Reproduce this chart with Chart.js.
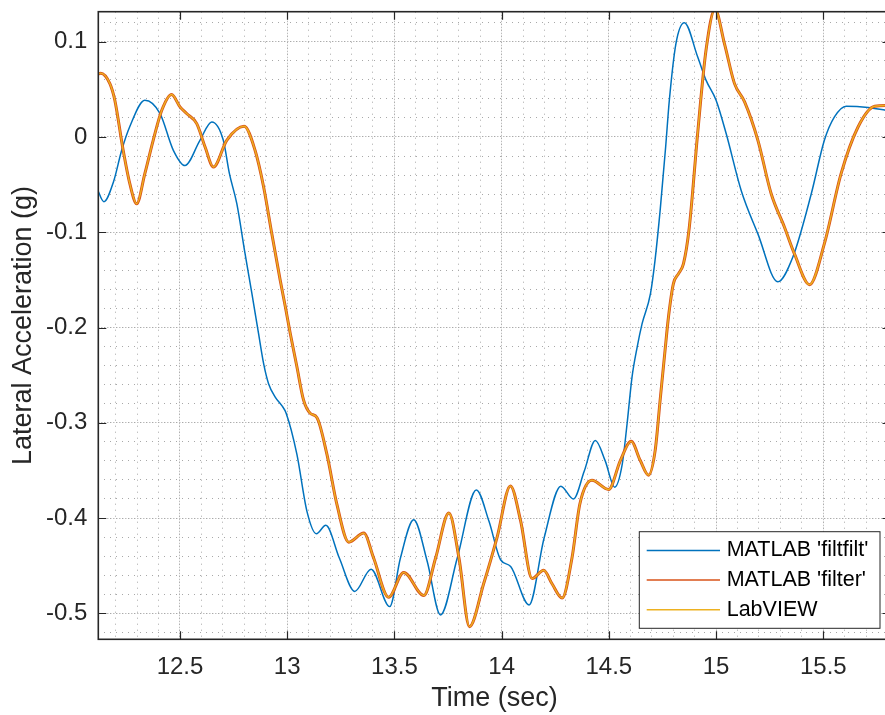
<!DOCTYPE html>
<html lang="en">
<head>
  <meta charset="UTF-8" />
  <title>Lateral Acceleration - filter comparison</title>
  <script src="https://cdn.jsdelivr.net/npm/chart.js@4"></script>
  <style>
    html, body { margin: 0; padding: 0; background: #fff; overflow: hidden; }
    #chart { display: block; }
  </style>
</head>
<body>
  <canvas id="chart" width="892" height="715"></canvas>

  <script>
    // MATLAB 'filtfilt' (zero phase) - time in sec, lateral acceleration in g
    const filtfiltTime = [12.113, 12.145, 12.19, 12.228, 12.266, 12.336, 12.407, 12.469, 12.523, 12.593,
      12.648, 12.702, 12.73, 12.765, 12.803, 12.835, 12.866, 12.89, 12.913, 12.944,
      12.975, 12.995, 13.045, 13.092, 13.136, 13.18, 13.243, 13.315, 13.391, 13.478,
      13.528, 13.59, 13.653, 13.715, 13.793, 13.882, 13.941, 13.995, 14.042, 14.128,
      14.198, 14.276, 14.335, 14.385, 14.437, 14.483, 14.527, 14.562, 14.585, 14.608,
      14.632, 14.655, 14.694, 14.715, 14.74, 14.765, 14.782, 14.813, 14.852, 14.914,
      14.953, 15.0, 15.047, 15.117, 15.195, 15.288, 15.358, 15.444, 15.505, 15.552,
      15.607, 15.709, 15.792, 15.82];
    const filtfiltValue = [-0.054, -0.068, -0.047, -0.014, 0.011, 0.0386, 0.0246, -0.014, -0.030, -0.0035,
      0.0158, -0.0035, -0.038, -0.070, -0.122, -0.164, -0.206, -0.238, -0.259, -0.273,
      -0.282, -0.290, -0.333, -0.393, -0.4165, -0.4077, -0.442, -0.477, -0.4537, -0.493,
      -0.442, -0.4017, -0.4456, -0.5017, -0.442, -0.3705, -0.4035, -0.4438, -0.4508, -0.4912,
      -0.421, -0.3666, -0.380, -0.351, -0.3185, -0.340, -0.3676, -0.344, -0.301, -0.252,
      -0.2205, -0.196, -0.1644, -0.130, -0.075, -0.010, 0.0386, 0.0983, 0.120, 0.0842,
      0.0597, 0.0386, 0.0036, -0.0561, -0.1017, -0.152, -0.126, -0.0596, -0.0035, 0.021,
      0.0323, 0.031, 0.028, 0.027];

    // MATLAB 'filter' (causal)
    const filterTime = [12.119, 12.13, 12.173, 12.196, 12.235, 12.266, 12.298, 12.336, 12.375, 12.415,
      12.461, 12.5, 12.531, 12.578, 12.617, 12.656, 12.718, 12.799, 12.85, 12.89,
      12.928, 12.967, 12.991, 13.014, 13.045, 13.076, 13.107, 13.139, 13.185, 13.232,
      13.287, 13.357, 13.403, 13.473, 13.543, 13.637, 13.692, 13.754, 13.801, 13.85,
      13.916, 13.979, 14.041, 14.088, 14.142, 14.196, 14.235, 14.282, 14.328, 14.365,
      14.421, 14.499, 14.554, 14.604, 14.646, 14.685, 14.716, 14.739, 14.762, 14.778,
      14.801, 14.825, 14.848, 14.875, 14.914, 14.953, 14.995, 15.039, 15.086, 15.133,
      15.195, 15.257, 15.319, 15.366, 15.436, 15.505, 15.583, 15.662, 15.74, 15.792,
      15.82];
    const filterValue = [0.066, 0.067, 0.056, 0.0386, -0.014, -0.049, -0.0701, -0.0385, -0.0035, 0.028,
      0.0446, 0.0316, 0.0246, 0.014, -0.0105, -0.0316, -0.0035, 0.0112, -0.014, -0.0525,
      -0.1014, -0.150, -0.178, -0.206, -0.241, -0.276, -0.290, -0.2947, -0.333, -0.386,
      -0.4253, -0.4158, -0.442, -0.4832, -0.4571, -0.4814, -0.442, -0.3947, -0.442, -0.514,
      -0.469, -0.420, -0.3663, -0.4025, -0.4635, -0.4548, -0.469, -0.484, -0.442, -0.385,
      -0.3604, -0.370, -0.3394, -0.3195, -0.3394, -0.355, -0.329, -0.2764, -0.224, -0.189,
      -0.154, -0.1434, -0.133, -0.095, 0.0036, 0.091, 0.134, 0.098, 0.056, 0.0368,
      -0.0035, -0.0596, -0.0947, -0.123, -0.155, -0.112, -0.0385, 0.0105, 0.0323, 0.033,
      0.031];

    // LabVIEW output lies right on top of the MATLAB 'filter' curve
    const labviewTime = filterTime;
    const labviewValue = filterValue;

    const seriesNames = ["MATLAB 'filtfilt'", "MATLAB 'filter'", "LabVIEW"];
    const seriesColors = ["#0072BD", "#D95319", "#EDB120"];

    const xTicks = [12.5, 13, 13.5, 14, 14.5, 15, 15.5];
    const xTickLabels = ["12.5", "13", "13.5", "14", "14.5", "15", "15.5"];
    const yTicks = [-0.5, -0.4, -0.3, -0.2, -0.1, 0, 0.1];
    const yTickLabels = ["-0.5", "-0.4", "-0.3", "-0.2", "-0.1", "0", "0.1"];

    const xRange = [12.119, 15.8134];
    const yRange = [-0.5273, 0.1315];

    const FONT = "'Liberation Sans', Arial, sans-serif";
    const AXIS_COLOR = "#262626";

    // minor grid positions (0.1 s and 0.02 g)
    function gridSteps(from, to, step) {
      const out = [];
      for (let v = from; v <= to + 1e-9; v += step) out.push(Math.round(v * 1000) / 1000);
      return out;
    }
    const xMinor = gridSteps(12.2, 15.8, 0.1);
    const yMinor = gridSteps(-0.52, 0.12, 0.02);

    function toPoints(times, values) {
      return times.map((t, i) => ({ x: t, y: values[i] }));
    }

    // MATLAB style box, inward tick marks and the legend
    const matlabAxes = {
      id: "matlabAxes",
      afterDraw(chart) {
        const { ctx, chartArea: a } = chart;
        const x = chart.scales.x, y = chart.scales.y;
        ctx.save();

        ctx.strokeStyle = AXIS_COLOR;
        ctx.lineWidth = 1.2;
        ctx.beginPath();
        xTicks.forEach(v => {
          const px = Math.round(x.getPixelForValue(v)) + 0.5;
          ctx.moveTo(px, a.bottom); ctx.lineTo(px, a.bottom - 8);
          ctx.moveTo(px, a.top); ctx.lineTo(px, a.top + 8);
        });
        yTicks.forEach(v => {
          const py = Math.round(y.getPixelForValue(v)) + 0.5;
          ctx.moveTo(a.left, py); ctx.lineTo(a.left + 8, py);
          ctx.moveTo(a.right, py); ctx.lineTo(a.right - 8, py);
        });
        ctx.stroke();

        ctx.lineWidth = 1.6;
        ctx.strokeRect(a.left, a.top, a.right - a.left, a.bottom - a.top);

        // legend, southeast corner
        const boxW = 240.7, boxH = 96.6;
        const bx = a.right - 10.5 - boxW;
        const by = a.bottom - 11 - boxH;
        ctx.fillStyle = "#fff";
        ctx.fillRect(bx, by, boxW, boxH);
        ctx.lineWidth = 1;
        ctx.strokeStyle = AXIS_COLOR;
        ctx.strokeRect(bx, by, boxW, boxH);

        ctx.font = "21.5px " + FONT;
        ctx.textBaseline = "middle";
        ctx.textAlign = "left";
        chart.data.datasets.forEach((ds, i) => {
          const rowY = by + 18.8 + i * 29.6;
          ctx.strokeStyle = ds.borderColor;
          ctx.lineWidth = 1.5;
          ctx.beginPath();
          ctx.moveTo(bx + 7.4, rowY);
          ctx.lineTo(bx + 80.7, rowY);
          ctx.stroke();
          ctx.fillStyle = "#000";
          ctx.fillText(ds.label, bx + 87.4, rowY);
        });

        ctx.restore();
      }
    };

    const ctx = document.getElementById("chart").getContext("2d");
    new Chart(ctx, {
      type: "line",
      data: {
        datasets: [
          {
            label: seriesNames[0],
            data: toPoints(filtfiltTime, filtfiltValue),
            borderColor: seriesColors[0],
            borderWidth: 1.5,
            order: 3
          },
          {
            label: seriesNames[1],
            data: toPoints(filterTime, filterValue),
            borderColor: seriesColors[1],
            borderWidth: 3,
            order: 2
          },
          {
            label: seriesNames[2],
            data: toPoints(labviewTime, labviewValue),
            borderColor: seriesColors[2],
            borderWidth: 1.4,
            order: 1
          }
        ]
      },
      options: {
        responsive: false,
        animation: false,
        devicePixelRatio: 1,
        layout: { padding: { top: 11.7, right: 1.5, bottom: 0, left: 0 } },
        elements: {
          point: { radius: 0, hoverRadius: 0 },
          line: { cubicInterpolationMode: "monotone", fill: false }
        },
        datasets: { line: { clip: 0 } },
        plugins: { legend: { display: false }, tooltip: { enabled: false } },
        scales: {
          x: {
            type: "linear",
            position: "bottom",
            min: xRange[0],
            max: xRange[1],
            afterBuildTicks: s => { s.ticks = xTicks.map(v => ({ value: v })); },
            afterFit: s => { s.height = 75.7; s.paddingLeft = 0; s.paddingRight = 0; },
            ticks: {
              callback: v => xTickLabels[xTicks.indexOf(v)],
              font: { family: FONT, size: 24 },
              color: AXIS_COLOR,
              padding: 14,
              maxRotation: 0,
              autoSkip: false
            },
            grid: { color: "#bdbdbd", lineWidth: 1, drawTicks: false },
            border: { display: false, dash: [1.5, 1.5] },
            title: {
              display: true,
              text: "Time (sec)",
              font: { family: FONT, size: 27 },
              color: AXIS_COLOR,
              padding: { top: 0, bottom: 0 }
            }
          },
          xMinor: {
            type: "linear",
            position: "bottom",
            min: xRange[0],
            max: xRange[1],
            afterBuildTicks: s => { s.ticks = xMinor.map(v => ({ value: v })); },
            afterFit: s => { s.height = 0; s.paddingLeft = 0; s.paddingRight = 0; },
            ticks: { display: false },
            grid: { color: "#a8a8a8", lineWidth: 1, drawTicks: false },
            border: { display: false, dash: [1, 5] }
          },
          y: {
            type: "linear",
            position: "left",
            min: yRange[0],
            max: yRange[1],
            afterBuildTicks: s => { s.ticks = yTicks.map(v => ({ value: v })); },
            afterFit: s => { s.width = 98.3; s.paddingTop = 0; s.paddingBottom = 0; },
            ticks: {
              callback: v => yTickLabels[yTicks.indexOf(v)],
              font: { family: FONT, size: 24 },
              color: AXIS_COLOR,
              padding: 11,
              autoSkip: false
            },
            grid: { color: "#bdbdbd", lineWidth: 1, drawTicks: false },
            border: { display: false, dash: [1.5, 1.5] },
            title: {
              display: true,
              text: "Lateral Acceleration (g)",
              font: { family: FONT, size: 27 },
              color: AXIS_COLOR,
              padding: { top: 7, bottom: 0 }
            }
          },
          yMinor: {
            type: "linear",
            position: "left",
            min: yRange[0],
            max: yRange[1],
            afterBuildTicks: s => { s.ticks = yMinor.map(v => ({ value: v })); },
            afterFit: s => { s.width = 0; s.paddingTop = 0; s.paddingBottom = 0; },
            ticks: { display: false },
            grid: { color: "#a8a8a8", lineWidth: 1, drawTicks: false },
            border: { display: false, dash: [1, 5] }
          }
        }
      },
      plugins: [matlabAxes]
    });
  </script>
</body>
</html>
